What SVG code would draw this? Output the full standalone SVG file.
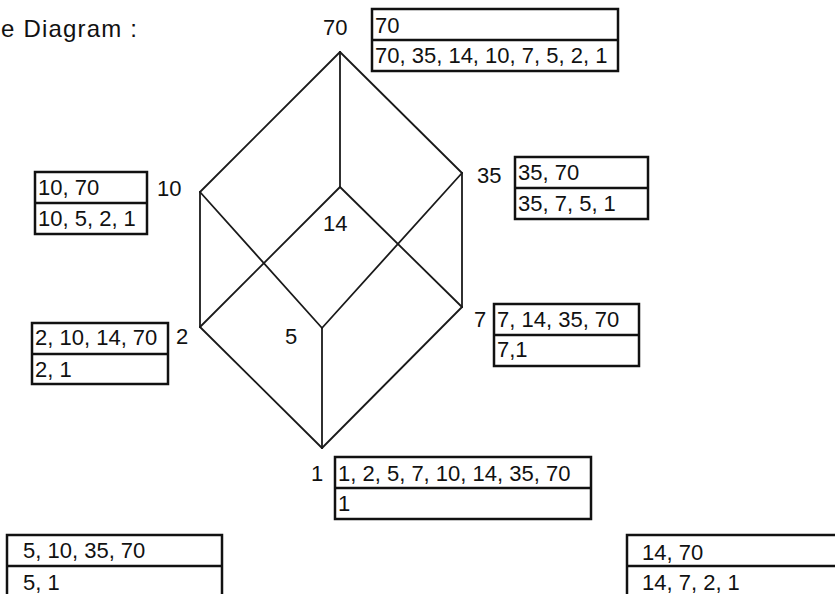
<svg xmlns="http://www.w3.org/2000/svg" width="835" height="594" viewBox="0 0 835 594">
<style>
text{font-family:"Liberation Sans",Arial,sans-serif;font-size:22px;fill:#111}
.box{fill:#fff;stroke:#111;stroke-width:2.5}
.div{stroke:#111;stroke-width:2.5}
.edge{stroke:#1a1a1a;stroke-width:1.8;fill:none;stroke-linecap:round}
</style>
<rect width="835" height="594" fill="#fff"/>
<text x="1" y="37" style="font-size:24px" textLength="136" lengthAdjust="spacing">e Diagram :</text>
<g id="connectors">
<line class="edge" x1="340" y1="52" x2="200" y2="192"/>
<line class="edge" x1="340" y1="52" x2="462" y2="173"/>
<line class="edge" x1="340" y1="52" x2="340" y2="187"/>
<line class="edge" x1="200" y1="192" x2="200" y2="327"/>
<line class="edge" x1="200" y1="192" x2="322" y2="328"/>
<line class="edge" x1="340" y1="187" x2="200" y2="327"/>
<line class="edge" x1="340" y1="187" x2="462" y2="307"/>
<line class="edge" x1="462" y1="173" x2="322" y2="328"/>
<line class="edge" x1="462" y1="173" x2="462" y2="307"/>
<line class="edge" x1="200" y1="327" x2="322" y2="448"/>
<line class="edge" x1="322" y1="328" x2="322" y2="448"/>
<line class="edge" x1="462" y1="307" x2="322" y2="448"/>
</g>
<g id="n70">
<text x="323" y="35">70</text>
<rect class="box" x="372" y="9" width="246" height="62"/>
<line class="div" x1="372" y1="40" x2="618" y2="40"/>
<text x="375" y="33">70</text>
<text x="375" y="63">70, 35, 14, 10, 7, 5, 2, 1</text>
</g>
<g id="n35">
<text x="477" y="183">35</text>
<rect class="box" x="515" y="157" width="133" height="62"/>
<line class="div" x1="515" y1="188" x2="648" y2="188"/>
<text x="518" y="180">35, 70</text>
<text x="518" y="211">35, 7, 5, 1</text>
</g>
<g id="n10">
<text x="157" y="196">10</text>
<rect class="box" x="35" y="172" width="112" height="62"/>
<line class="div" x1="35" y1="203" x2="147" y2="203"/>
<text x="38" y="195">10, 70</text>
<text x="38" y="226">10, 5, 2, 1</text>
</g>
<g id="n14">
<text x="323" y="231">14</text>
<rect class="box" x="627" y="535" width="220" height="70"/>
<line class="div" x1="627" y1="566" x2="847" y2="566"/>
<text x="642" y="560">14, 70</text>
<text x="642" y="590">14, 7, 2, 1</text>
</g>
<g id="n2">
<text x="176" y="344">2</text>
<rect class="box" x="32" y="323" width="136" height="61"/>
<line class="div" x1="32" y1="354" x2="168" y2="354"/>
<text x="35" y="345">2, 10, 14, 70</text>
<text x="35" y="377">2, 1</text>
</g>
<g id="n5">
<text x="285" y="344">5</text>
<rect class="box" x="7" y="535" width="215" height="70"/>
<line class="div" x1="7" y1="566" x2="222" y2="566"/>
<text x="23" y="558">5, 10, 35, 70</text>
<text x="23" y="590">5, 1</text>
</g>
<g id="n7">
<text x="474" y="327">7</text>
<rect class="box" x="494" y="304" width="145" height="62"/>
<line class="div" x1="494" y1="335" x2="639" y2="335"/>
<text x="497" y="327">7, 14, 35, 70</text>
<text x="497" y="357">7,1</text>
</g>
<g id="n1">
<text x="311" y="481">1</text>
<rect class="box" x="335" y="457" width="256" height="62"/>
<line class="div" x1="335" y1="488" x2="591" y2="488"/>
<text x="338" y="481">1, 2, 5, 7, 10, 14, 35, 70</text>
<text x="338" y="511">1</text>
</g>
</svg>
